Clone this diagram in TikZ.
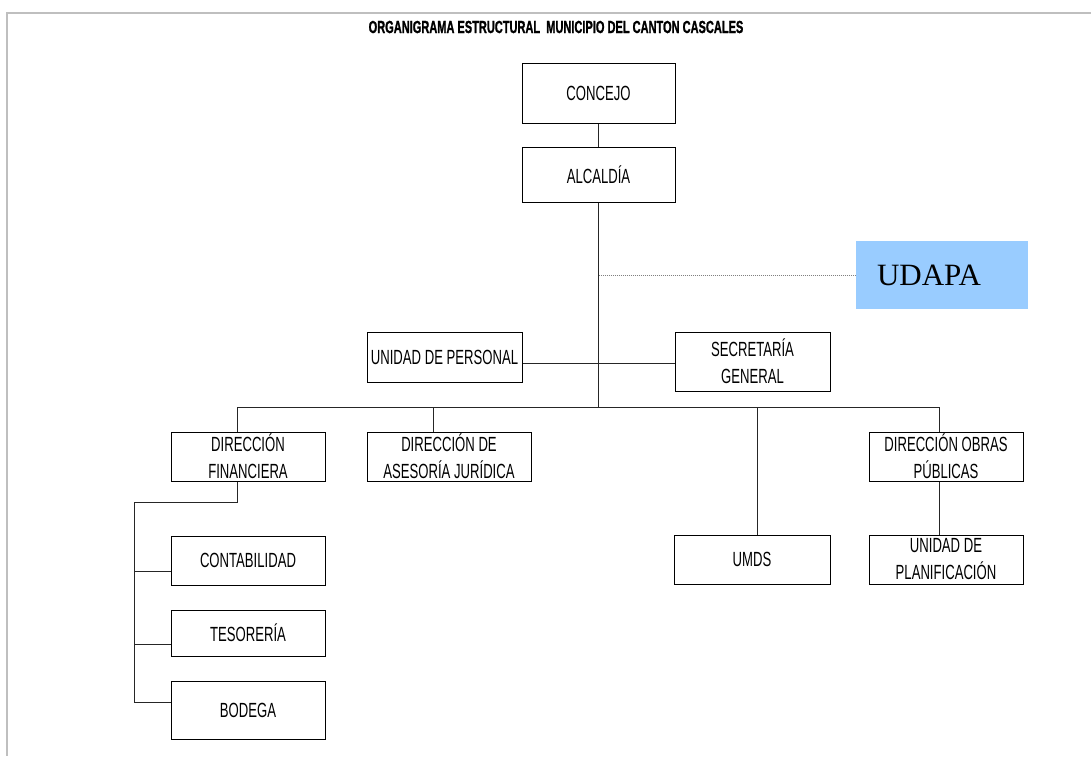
\documentclass[tikz,border=0pt]{standalone}
\usepackage{fontspec}
\usepackage{tikz}
\newfontfamily\boxfam[FakeStretch=0.64]{Liberation Sans}
\newfontfamily\titlefam[FakeStretch=0.63,FakeBold=1.2]{Liberation Sans}
\newfontfamily\udapafam{Liberation Serif}
\definecolor{udapablue}{HTML}{99CCFF}

\begin{document}
\begin{tikzpicture}[x=1pt,y=-1pt]
  \tikzset{unit/.style={draw,line width=1pt,align=center,inner sep=0pt,
      font={\boxfam\fontsize{20.5}{27}\selectfont},minimum width=154pt,minimum height=49pt}}
  \tikzset{link/.style={line width=1pt,black!85}}
  \useasboundingbox (0,0) rectangle (1091,756);
  \draw[black!25,line width=1.2pt] (1091,13) -- (7,13) -- (7,756);
  \node (titulo) at (556,27) {\titlefam\bfseries\fontsize{17.5}{19}\selectfont ORGANIGRAMA ESTRUCTURAL~~MUNICIPIO DEL CANTON CASCALES};

  \node[unit,minimum width=153pt,minimum height=60pt] (concejo) at (598.5,93) {CONCEJO};
  \node[unit,minimum width=153pt,minimum height=55pt] (alcaldia) at (598.5,174.5) {ALCALD\'IA};
  \node[fill=udapablue,minimum height=68pt,inner xsep=21pt,text width=130pt,align=left,
      font={\udapafam\fontsize{31}{34}\selectfont}] (udapa) at (942,275) {UDAPA};
  \node[unit,minimum width=155pt,minimum height=50pt] (personal) at (444.5,357) {UNIDAD DE PERSONAL};
  \node[unit,minimum width=155pt,minimum height=59pt] (secretaria) at (752.5,361.5) {SECRETAR\'IA\\GENERAL};
  \node[unit] (financiera) at (248,456.5) {DIRECCI\'ON\\FINANCIERA};
  \node[unit,minimum width=164pt] (juridica) at (449,456.5) {DIRECCI\'ON DE\\ASESOR\'IA JUR\'IDICA};
  \node[unit] (obras) at (946,456.5) {DIRECCI\'ON OBRAS\\P\'UBLICAS};
  \node[unit,minimum width=156pt] (umds) at (752,559.5) {UMDS};
  \node[unit] (planificacion) at (946,559.5) {UNIDAD DE\\PLANIFICACI\'ON};
  \node[unit] (contabilidad) at (248,560.5) {CONTABILIDAD};
  \node[unit,minimum height=46pt] (tesoreria) at (248,633) {TESORER\'IA};
  \node[unit,minimum height=58pt] (bodega) at (248,710) {BODEGA};

  \coordinate (cruce) at (598.5,363);
  \coordinate (bus) at (598.5,407);
  \coordinate (b1) at (237,407);
  \coordinate (b2) at (433,407);
  \coordinate (b3) at (757,407);
  \coordinate (b4) at (939,407);
  \coordinate (f1) at (237,502);
  \coordinate (f2) at (134,502);
  \coordinate (t1) at (134,571);
  \coordinate (t2) at (134,644);
  \coordinate (t3) at (134,702);

  \draw[link] (concejo) -- (alcaldia);
  \draw[link] (alcaldia.south) -- (bus);
  \draw[gray,line width=1pt,densely dotted] (alcaldia.south |- udapa.west) -- (udapa.west);
  \draw[link] (personal.east |- cruce) -- (secretaria.west |- cruce);
  \draw[link] (b1) -- (b4);
  \draw[link] (b1) -- (b1 |- financiera.north);
  \draw[link] (b2) -- (b2 |- juridica.north);
  \draw[link] (b3) -- (b3 |- umds.north);
  \draw[link] (b4) -- (b4 |- obras.north);
  \draw[link] (b4 |- obras.south) -- (b4 |- planificacion.north);
  \draw[link] (b1 |- financiera.south) -- (f1) -- (f2) -- (t3);
  \draw[link] (t1) -- (t1 -| contabilidad.west);
  \draw[link] (t2) -- (t2 -| tesoreria.west);
  \draw[link] (t3) -- (t3 -| bodega.west);
\end{tikzpicture}
\end{document}
